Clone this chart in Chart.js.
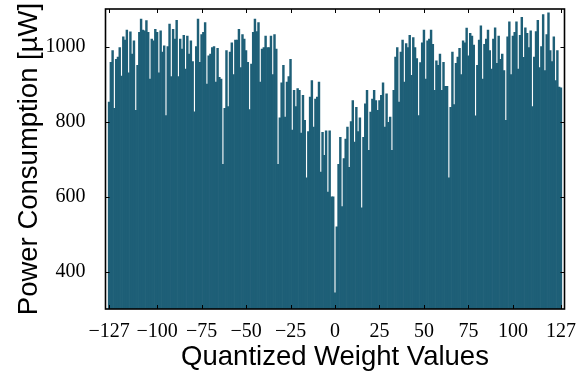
<!DOCTYPE html>
<html>
<head>
<meta charset="utf-8">
<script src="https://cdn.jsdelivr.net/npm/chart.js@4.4.1/dist/chart.umd.min.js"></script>
<style>
  html, body { margin: 0; padding: 0; background: #fff; }
</style>
</head>
<body>
<canvas id="chart" width="577" height="374"></canvas>
<script>
// power per quantized weight (uW)
const powerNeg = [ // -127 .. -1
  852, 958, 989, 835, 966, 972, 997, 921, 1026, 1017, 1044, 930, 1039, 980, 1015, 830, 950, 1038, 1073, 1044, 1042, 1069, 1038, 913, 1020, 1015, 1046, 1038,
  930, 1042, 985, 1002, 816, 1000, 1060, 920, 1046, 1020, 1070, 920, 1020, 993, 1030, 940, 1028, 980, 1015, 960, 826, 1000, 1073, 958, 1032, 1038, 1064, 900, 975, 980, 997,
  1000, 905, 995, 918, 913, 686, 835, 989, 840, 985, 1010, 925, 1017, 1017, 1046, 944, 1032, 1020, 989, 958, 832, 953, 1038, 1073, 1040, 1064, 905, 993, 997, 1028, 997,
  997, 1028, 925, 1032, 993, 686, 810, 903, 950, 812, 905, 920, 966, 777, 883, 840, 888, 883, 769, 870, 803, 650, 773, 865, 909, 785, 860, 865, 905, 665, 771,
  710, 775, 612, 775, 599, 599
];
const powerZero = [343];
const powerPos = [ // 1 .. 127
  519, 686, 758, 573, 701, 753, 785, 678, 800, 856, 745, 838, 773, 810, 570, 758, 847, 883, 723, 825, 860, 883, 856, 830,
  856, 870, 903, 785, 874, 798, 812, 723, 883, 972, 997, 852, 985, 1017, 905, 1008, 997, 1030, 923, 1024, 997, 968, 816, 957, 1010, 1044, 913, 1015, 1020, 1044, 1006, 883,
  962, 950, 980, 883, 958, 894, 894, 650, 838, 985, 845, 955, 972, 995, 925, 1015, 1010, 1049, 975, 1035, 1028, 1004, 815, 950, 1017, 1055, 913, 1006, 1020, 1044, 989,
  940, 1020, 1050, 955, 1028, 966, 980, 936, 803, 1026, 1066, 925, 1028, 1038, 1066, 940, 1030, 1078, 971, 1050, 1035, 997, 1042,
  840, 972, 1040, 1070, 944, 1000, 1085, 936, 1032, 1090, 989, 960, 1026, 909, 989, 892, 890
];
const xTickValues = [-127, -100, -75, -50, -25, 0, 25, 50, 75, 100, 127];
const yTickValues = [400, 600, 800, 1000];

const power = powerNeg.concat(powerZero, powerPos);
const points = power.map((p, i) => ({ x: i - 127, y: p }));

const minus = v => (v < 0 ? '\u2212' + Math.abs(v) : String(v));

// matplotlib style box with inward ticks on all four sides
const boxTicks = {
  id: 'boxTicks',
  afterDatasetsDraw(chart) {
    const { ctx, chartArea: a, scales: { x, y } } = chart;
    ctx.save();
    ctx.strokeStyle = '#000';
    ctx.lineWidth = 1;
    ctx.beginPath();
    x.ticks.forEach(t => {
      const px = Math.round(x.getPixelForValue(t.value)) + 0.5;
      ctx.moveTo(px, a.bottom); ctx.lineTo(px, a.bottom - 4);
      ctx.moveTo(px, a.top); ctx.lineTo(px, a.top + 4);
    });
    y.ticks.forEach(t => {
      const py = Math.round(y.getPixelForValue(t.value)) + 0.5;
      ctx.moveTo(a.left, py); ctx.lineTo(a.left + 4, py);
      ctx.moveTo(a.right, py); ctx.lineTo(a.right - 4, py);
    });
    ctx.stroke();
    ctx.lineWidth = 1.6;
    ctx.strokeRect(a.left, a.top, a.right - a.left, a.bottom - a.top);
    ctx.restore();
  }
};

Chart.defaults.font.family = 'Liberation Serif';
Chart.defaults.color = '#000';

new Chart(document.getElementById('chart'), {
  type: 'bar',
  data: {
    datasets: [{
      data: points,
      backgroundColor: '#1e5f77',
      borderWidth: 0,
      barPercentage: 1.0,
      categoryPercentage: 1.0
    }]
  },
  options: {
    responsive: false,
    animation: false,
    layout: { padding: { top: 9, right: 12.5, left: 0, bottom: 0 } },
    plugins: { legend: { display: false }, tooltip: { enabled: false } },
    scales: {
      x: {
        type: 'linear',
        min: -129,
        max: 129,
        offset: false,
        afterBuildTicks: axis => { axis.ticks = xTickValues.map(v => ({ value: v })); },
        afterFit: axis => { axis.height = 65; axis.paddingLeft = 0; axis.paddingRight = 0; },
        grid: { display: false },
        border: { display: false },
        ticks: { font: { size: 20 }, padding: 3, maxRotation: 0, autoSkip: false, callback: v => minus(v) },
        title: { display: true, text: 'Quantized Weight Values', font: { family: 'Liberation Sans', size: 27.5 }, padding: { top: 0, bottom: 0 } }
      },
      y: {
        min: 300,
        max: 1100,
        afterBuildTicks: axis => { axis.ticks = yTickValues.map(v => ({ value: v })); },
        afterFit: axis => { axis.width = 105.5; axis.paddingTop = 0; axis.paddingBottom = 0; },
        grid: { display: false },
        border: { display: false },
        ticks: { font: { size: 20 }, padding: 12, callback: v => String(v) },
        title: { display: true, text: 'Power Consumption [\u00b5W]', font: { family: 'Liberation Sans', size: 27.5 }, padding: { top: 13, bottom: 0 } }
      }
    }
  },
  plugins: [boxTicks]
});
</script>
</body>
</html>
